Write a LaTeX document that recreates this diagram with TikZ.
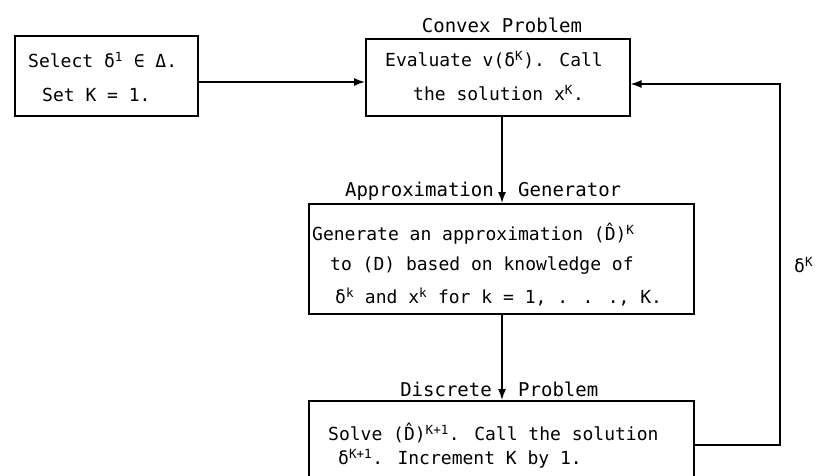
\documentclass[tikz,border=0pt]{standalone}
\usepackage{fontspec}
\setmainfont{DejaVu Sans Mono}
\usetikzlibrary{arrows.meta}
\begin{document}
\begin{tikzpicture}[x=1pt,y=-1pt,
  box/.style={draw,line width=1.5pt,anchor=north west,inner sep=0pt},
  txt/.style={inner sep=0pt,font=\fontsize{18}{21}\selectfont},
  ttl/.style={inner sep=0pt,font=\fontsize{19}{22}\selectfont},
  conn/.style={line width=1.5pt},
  arr/.style={line width=1.5pt,-{Latex[length=11pt,width=8pt]}}]
\path[use as bounding box,clip] (0,0) rectangle (816,475);
% boxes
\node[box,minimum width=183pt,minimum height=80pt] (b1) at (14,35) {};
\node[box,minimum width=264pt,minimum height=77pt] (b2) at (365,38) {};
\node[box,minimum width=385pt,minimum height=110pt] (b3) at (308,203) {};
\node[box,minimum width=385pt,minimum height=110pt] (b4) at (308,400) {};
% box 1 text
\node[txt,anchor=west] (t1a) at (28,60) {Select δ\textsuperscript{1} ∈ Δ.};
\node[txt,anchor=west] (t1b) at (42,95) {Set K = 1.};
% box 2
\node[ttl,anchor=base] (h2) at (502,32) {Convex Problem};
\node[txt,anchor=west] (t2a) at (385,60) {Evaluate v(δ\textsuperscript{K}). Call};
\node[txt,anchor=west] (t2b) at (413,93) {the solution x\textsuperscript{K}.};
% box 3
\node[ttl,anchor=base east] (h3a) at (494,196) {Approximation};
\node[ttl,anchor=base west] (h3b) at (518,196) {Generator};
\node[txt,anchor=west] (t3a) at (312,234) {Generate an approximation (\^{D})\textsuperscript{K}};
\node[txt,anchor=west] (t3b) at (330,266) {to (D) based on knowledge of};
\node[txt,anchor=west] (t3c) at (335,297) {δ\textsuperscript{k} and x\textsuperscript{k} for k = 1, . . ., K.};
% box 4
\node[ttl,anchor=base east] (h4a) at (492,396) {Discrete};
\node[ttl,anchor=base west] (h4b) at (518,396) {Problem};
\node[txt,anchor=west] (t4a) at (328,433) {Solve (\^{D})\textsuperscript{K+1}. Call the solution};
\node[txt,anchor=west] (t4b) at (338,459) {δ\textsuperscript{K+1}. Increment K by 1.};
% loop label
\node[txt,anchor=west] (lk) at (794,265) {δ\textsuperscript{K}};
% connectors
\draw[arr] (b1.east |- 0,82) -- (b2.west |- 0,82);
\draw[arr] (b2.south -| 502,0) -- (b3.north -| 502,0);
\draw[arr] (b3.south -| 502,0) -- (b4.north -| 502,0);
\coordinate (r1) at (780,445);
\coordinate (r2) at (780,84);
\draw[arr] (b4.east |- r1) -- (r1) -- (r2) -- (b2.east |- r2);
\end{tikzpicture}
\end{document}
